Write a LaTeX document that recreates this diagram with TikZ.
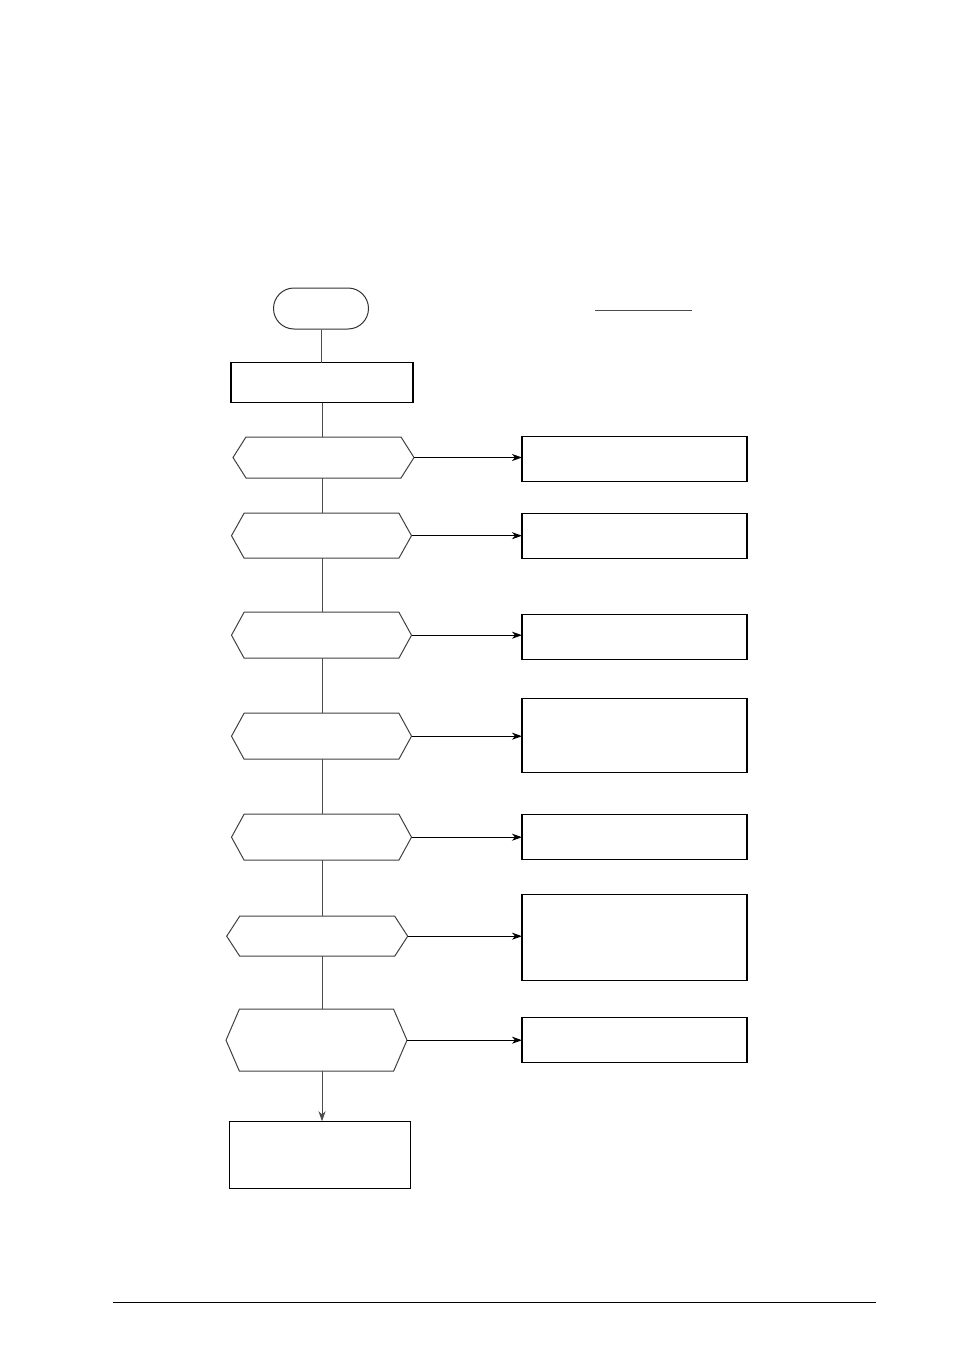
\documentclass[tikz,border=0pt]{standalone}
\usepackage{tikz}
\usetikzlibrary{arrows.meta,positioning,shapes.misc}
\tikzset{hexnode/.style={draw=none, minimum width=181pt, minimum height=#1, inner sep=0pt, outer sep=0pt},
hexnode/.default={46pt},
box/.style={draw=black, line width=1.2pt, minimum width=#1, inner sep=0pt, outer sep=0pt},
box/.default={225pt},
hexline/.style={draw=black!75, line width=1pt},
link/.style={black!70, line width=1pt},
tip/.style={-{Stealth[length=10pt,width=7pt,inset=3pt]}, line width=1pt}}
% hexagon drawn on the rectangle of a named node, #2 = indent
\newcommand{\hexa}[2]{%
  \draw[hexline] (#1.west) -- ([xshift=#2]#1.north west) -- ([xshift=-#2]#1.north east)
    -- (#1.east) -- ([xshift=-#2]#1.south east) -- ([xshift=#2]#1.south west) -- cycle;}

\begin{document}
\begin{tikzpicture}[x=1pt, y=-1pt]
\useasboundingbox (0,0) rectangle (954,1351);

\node[rounded rectangle, draw=black!80, line width=1pt, minimum width=95pt, minimum height=41pt, inner sep=0pt] (start) at (321,308.5) {};
\node[box=182pt, minimum height=40pt] (init) at (322,382.5) {};

% decisions on the left
\node[hexnode=41pt, minimum width=181pt] (h1) at (323.5,457.5) {};
\node[hexnode=45pt, minimum width=180pt] (h2) at (321.5,535.7) {};
\node[hexnode=46pt, minimum width=180pt] (h3) at (321.5,635.2) {};
\node[hexnode=46pt, minimum width=180pt] (h4) at (321.5,736.2) {};
\node[hexnode=46pt, minimum width=180pt] (h5) at (321.5,837.2) {};
\node[hexnode=40pt, minimum width=181pt] (h6) at (317.2,936.2) {};
\node[hexnode=62pt, minimum width=181pt] (h7) at (316.5,1040.2) {};
\hexa{h1}{13pt}
\hexa{h2}{12.6pt}
\hexa{h3}{12.6pt}
\hexa{h4}{12.6pt}
\hexa{h5}{12.6pt}
\hexa{h6}{13pt}
\hexa{h7}{13.4pt}

% boxes on the right
\node[box, minimum height=45pt] (b1) at (634.5,458.7) {};
\node[box, minimum height=45pt] (b2) at (634.5,535.8) {};
\node[box, minimum height=45pt] (b3) at (634.5,636.8) {};
\node[box, minimum height=74pt] (b4) at (634.5,735.3) {};
\node[box, minimum height=45pt] (b5) at (634.5,836.8) {};
\node[box, minimum height=86pt] (b6) at (634.5,937.2) {};
\node[box, minimum height=45pt] (b7) at (634.5,1039.8) {};

\node[box=181pt, minimum height=67pt] (stop) at (319.8,1154.8) {};

% spine
\draw[link] (start.south) -- (start.south |- init.north);
\draw[link] (init.south) -- (init.south |- h1.north);
\draw[link] (init.south |- h1.south) -- (init.south |- h2.north);
\draw[link] (init.south |- h2.south) -- (init.south |- h3.north);
\draw[link] (init.south |- h3.south) -- (init.south |- h4.north);
\draw[link] (init.south |- h4.south) -- (init.south |- h5.north);
\draw[link] (init.south |- h5.south) -- (init.south |- h6.north);
\draw[link] (init.south |- h6.south) -- (init.south |- h7.north);
\draw[link, tip] (init.south |- h7.south) -- (init.south |- stop.north);

% branches
\foreach \i in {1,...,7}
  \draw[tip] (h\i.east) -- (h\i.east -| b\i.west);

\draw[black!70, line width=1pt] (595,310.5) -- (691.5,310.5);
\draw[line width=1.2pt] (113,1302.3) -- (876,1302.3);

\end{tikzpicture}
\end{document}
